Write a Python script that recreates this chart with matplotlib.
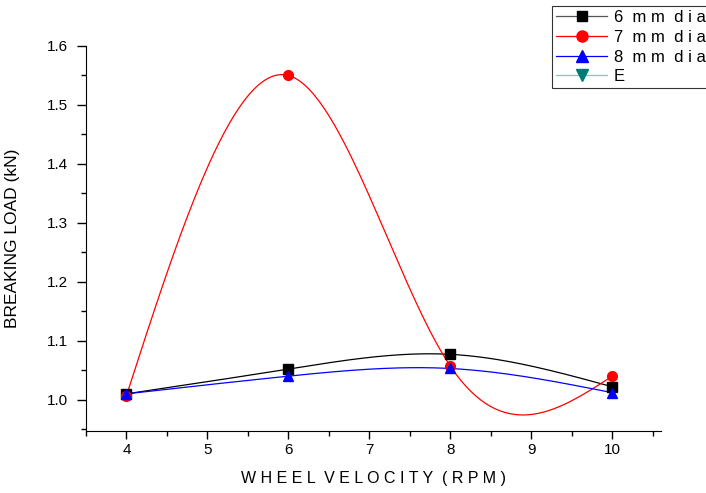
import numpy as np
import matplotlib.pyplot as plt
from matplotlib.lines import Line2D

plt.rcParams['font.family'] = ['Liberation Sans', 'DejaVu Sans']

rpm = [4, 6, 8, 10]
load_6mm = [1.010, 1.052, 1.077, 1.022]
load_7mm = [1.007, 1.550, 1.057, 1.040]
load_8mm = [1.010, 1.040, 1.053, 1.012]


def natural_spline(x, y, n=200):
    # plain natural cubic spline, no scipy needed
    x = np.asarray(x, float)
    y = np.asarray(y, float)
    k = len(x)
    h = np.diff(x)
    A = np.zeros((k, k))
    b = np.zeros(k)
    A[0, 0] = A[-1, -1] = 1
    for i in range(1, k - 1):
        A[i, i - 1] = h[i - 1]
        A[i, i] = 2 * (h[i - 1] + h[i])
        A[i, i + 1] = h[i]
        b[i] = 6 * ((y[i + 1] - y[i]) / h[i] - (y[i] - y[i - 1]) / h[i - 1])
    m = np.linalg.solve(A, b)
    xs = np.linspace(x[0], x[-1], n)
    idx = np.clip(np.searchsorted(x, xs) - 1, 0, k - 2)
    t0 = x[idx]
    t1 = x[idx + 1]
    hh = t1 - t0
    ys = (m[idx] * (t1 - xs) ** 3 / (6 * hh) + m[idx + 1] * (xs - t0) ** 3 / (6 * hh)
          + (y[idx] / hh - m[idx] * hh / 6) * (t1 - xs)
          + (y[idx + 1] / hh - m[idx + 1] * hh / 6) * (xs - t0))
    return xs, ys


fig = plt.figure(figsize=(7.06, 4.93), dpi=100)
ax = fig.add_axes([0.1218, 0.1258, 0.8142, 0.7809])

series = [(load_6mm, 'black', 's', 'black'),
          (load_7mm, 'red', 'o', 'red'),
          (load_8mm, 'blue', '^', 'blue')]
for vals, col, mk, mcol in series:
    xs, ys = natural_spline(rpm, vals)
    ax.plot(xs, ys, color=col, lw=0.9, zorder=2)
    ax.plot(rpm, vals, ls='none', marker=mk, color=mcol, ms=7, zorder=3)

ax.set_xlim(3.5, 10.6)
ax.set_ylim(0.947, 1.6)
ax.set_xticks([4, 5, 6, 7, 8, 9, 10])
ax.set_xticks(np.arange(3.5, 10.6, 0.5), minor=True)
ax.set_yticks([1.0, 1.1, 1.2, 1.3, 1.4, 1.5, 1.6])
ax.set_yticks(np.arange(0.95, 1.6, 0.05), minor=True)
ax.yaxis.set_major_formatter(plt.FormatStrFormatter('%.1f'))
ax.tick_params(which='both', direction='out', labelsize=11, width=1)
ax.tick_params(axis='y', which='major', length=6.5, pad=6.5)
ax.tick_params(axis='x', which='major', length=5.5, pad=3.5)
ax.tick_params(which='minor', length=3.5)
ax.spines['top'].set_visible(False)
ax.spines['right'].set_visible(False)

ax.set_xlabel('W H E E L  V E L O C I T Y  ( R P M )', fontsize=11.5, labelpad=10)
ax.set_ylabel('BREAKING LOAD (kN)', fontsize=12.5, labelpad=19)

handles = [
    Line2D([], [], color='#555555', lw=0.9, marker='s', mfc='black', mec='black', ms=7),
    Line2D([], [], color='red', lw=0.9, marker='o', mfc='red', mec='red', ms=8),
    Line2D([], [], color='blue', lw=0.9, marker='^', mfc='blue', mec='blue', ms=8),
    Line2D([], [], color='#7cc8c0', lw=0.9, marker='v', mfc='#007a78', mec='#007a78', ms=8),
]
labels = ['6  m m  d i a', '7  m m  d i a', '8  m m  d i a', 'E']
leg = fig.legend(handles, labels, loc='upper left', bbox_to_anchor=(552 / 706, 1 - 6 / 493),
                 fontsize=12, frameon=True, fancybox=False, edgecolor='black',
                 handlelength=3.05, handletextpad=0.4, labelspacing=0.28,
                 borderpad=0.25, borderaxespad=0)
leg.get_frame().set_linewidth(0.8)

fig.savefig('out.png', dpi=100)
